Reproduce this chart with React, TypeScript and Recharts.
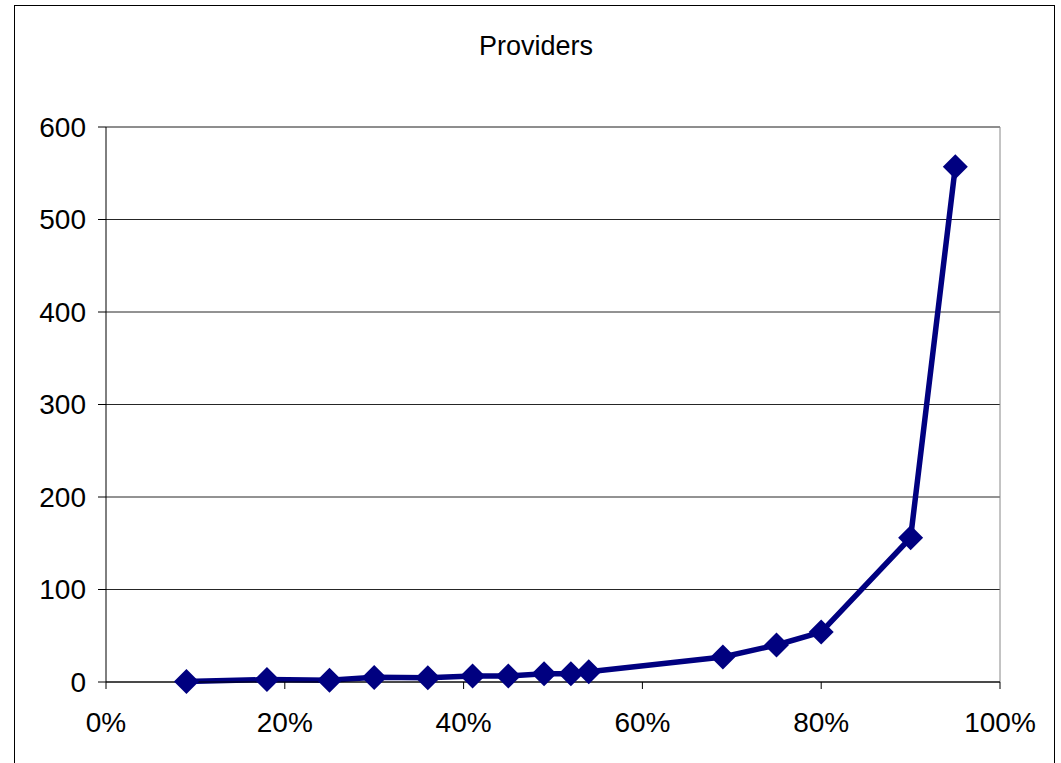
import { CartesianGrid, LineChart, Line, ReferenceLine, XAxis, YAxis } from "recharts";

const SHARES = [0.09, 0.18, 0.25, 0.3, 0.36, 0.41, 0.45, 0.49, 0.52, 0.54, 0.69, 0.75, 0.8, 0.9, 0.95];
const PROVIDERS = [0.5, 2.6, 2, 5, 4.5, 6.5, 6.5, 9, 9, 11, 27, 40, 54, 156, 557];
const X_TICKS = [0, 0.2, 0.4, 0.6, 0.8, 1];
const Y_TICKS = [0, 100, 200, 300, 400, 500, 600];

const data = SHARES.map((share, i) => ({ share, providers: PROVIDERS[i] }));

const FONT = "'Liberation Sans', Arial, sans-serif";
const NAVY = "#000080";

function Diamond(props: any) {
  const { cx, cy, index } = props;
  if (cx == null || cy == null) return null;
  const r = 12.5;
  return (
    <polygon
      key={index}
      points={`${cx},${cy - r} ${cx + r},${cy} ${cx},${cy + r} ${cx - r},${cy}`}
      fill={NAVY}
    />
  );
}

export default function App() {
  return (
    <div style={{ position: "relative", width: 1061, height: 763, overflow: "hidden", fontFamily: FONT }}>
      <style>{`body { margin: 0; }`}</style>
      <div
        style={{
          position: "absolute",
          left: 14,
          top: 5,
          width: 1039,
          height: 800,
          border: "1px solid #000",
        }}
      />
      <div style={{ position: "absolute", left: 0, top: 0 }}>
        <LineChart
          width={1061}
          height={763}
          data={data}
          margin={{ top: 127, right: 61, left: 46, bottom: 31 }}
        >
          <CartesianGrid horizontal vertical={false} stroke="#000" strokeOpacity={0.85} />
          <XAxis
            dataKey="share"
            type="number"
            domain={[0, 1]}
            ticks={X_TICKS}
            tickFormatter={(v: number) => `${Math.round(v * 100)}%`}
            height={50}
            tickSize={7}
            tickMargin={23}
            axisLine={{ stroke: "#000" }}
            tickLine={{ stroke: "#000" }}
            tick={{ fill: "#000", fontSize: 28, fontFamily: FONT }}
          />
          <YAxis
            type="number"
            domain={[0, 600]}
            ticks={Y_TICKS}
            width={60}
            tickSize={8}
            tickMargin={12}
            axisLine={{ stroke: "#000" }}
            tickLine={{ stroke: "#000" }}
            tick={{ fill: "#000", fontSize: 28, fontFamily: FONT }}
          />
          <ReferenceLine y={600} stroke="#888" />
          <ReferenceLine x={1} stroke="#888" />
          <Line
            dataKey="providers"
            stroke={NAVY}
            strokeWidth={5.5}
            dot={<Diamond />}
            activeDot={false}
            isAnimationActive={false}
          />
        </LineChart>
      </div>
      <svg
        width={1061}
        height={100}
        style={{ position: "absolute", left: 0, top: 0, pointerEvents: "none" }}
      >
        <text x={536} y={55} textAnchor="middle" fontSize={27} fontFamily={FONT} fill="#000">
          Providers
        </text>
      </svg>
    </div>
  );
}
